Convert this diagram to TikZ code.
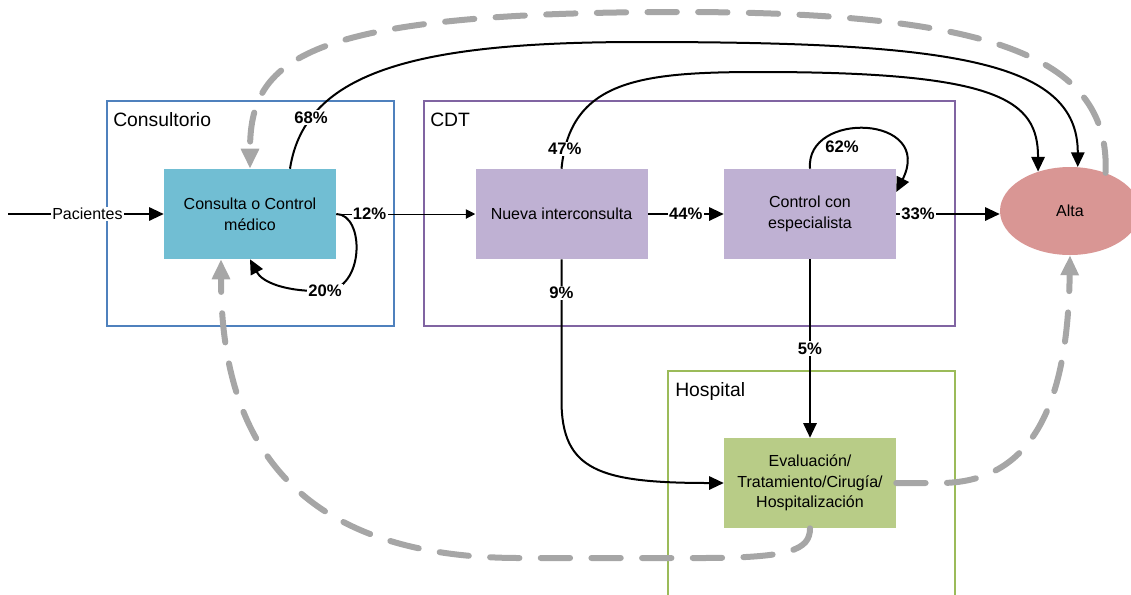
\documentclass[tikz,border=0pt]{standalone}
\usepackage{fontspec}
\setmainfont{Liberation Sans}
\usetikzlibrary{arrows.meta,shapes.geometric}
\definecolor{consblue}{RGB}{79,129,189}
\definecolor{cdtpurple}{RGB}{128,100,162}
\definecolor{hospgreen}{RGB}{155,187,89}
\definecolor{consfill}{RGB}{113,190,211}
\definecolor{cdtfill}{RGB}{191,177,211}
\definecolor{hospfill}{RGB}{184,204,135}
\definecolor{altafill}{RGB}{217,150,148}
\definecolor{retgray}{RGB}{166,166,166}
\tikzset{
  proc/.style={minimum width=129pt,minimum height=67.5pt,align=center,inner sep=2pt,font=\fontsize{12}{15.5}\selectfont},
  pct/.style={fill=white,inner sep=1pt,font=\fontsize{12.5}{14}\selectfont\bfseries},
  paso/.style={line width=1.5pt,-{Triangle[length=11pt,width=10pt]}},
  retorno/.style={retgray,line width=4.5pt,line cap=round,dash pattern=on 22pt off 16pt,-{Triangle[length=15pt,width=13pt]}},
  areabox/.style={line width=1.5pt},
  areatitle/.style={anchor=base west,inner sep=0pt,font=\fontsize{14.5}{16}\selectfont}
}
\begin{document}
\begin{tikzpicture}[x=0.75pt,y=-0.75pt]
\useasboundingbox (0,0) rectangle (1131,594);
\draw[areabox,consblue] (107,101) rectangle (394,326);
\draw[areabox,cdtpurple] (424,101) rectangle (955,326);
\draw[areabox,hospgreen] (668,371) rectangle (955,620);
\node[areatitle] (tcons) at (113,126) {Consultorio};
\node[areatitle] (tcdt) at (430,126) {CDT};
\node[areatitle] (thosp) at (675,396) {Hospital};
\node[proc,fill=consfill] (cons) at (250,214) {Consulta o Control\\médico};
\node[proc,fill=cdtfill] (nueva) at (561.5,214) {Nueva interconsulta};
\node[proc,fill=cdtfill] (ctrl) at (810,214) {Control con\\especialista};
\node[proc,fill=hospfill] (eval) at (810,483) {Evaluación/\\Tratamiento/Cirugía/\\Hospitalización};
\node[ellipse,fill=altafill,minimum width=105pt,minimum height=66pt,font=\fontsize{12}{14}\selectfont] (alta) at (1070,211) {Alta};
\coordinate (entrada) at (8,214);
\draw[paso] (entrada) -- node[pos=.51,fill=white,inner sep=1pt,font=\fontsize{12}{14}\selectfont] (lpac) {Pacientes} (cons.west);
\draw[line width=.75pt,-{Triangle[length=7pt,width=7pt]}] (cons.east) -- node[pct,pos=.24] (l12) {12\%} (nueva.west);
\draw[paso] (cons.east) .. controls (365,214) and (365,290) .. (325,291) node[pct] (l20) {20\%} .. controls (285,292) and (262,282) .. (cons.south);
\draw[paso] ([xshift=30pt]cons.north) .. controls (305,70) and (420,42) .. (640,42) node[pct,pos=.2] (l68) {68\%} .. controls (950,42) and (1078,60) .. (alta.80);
\draw[paso] (nueva.north) .. controls (570,80) and (640,72) .. (760,72) node[pct,pos=.08] (l47) {47\%} .. controls (1000,72) and (1038,100) .. (alta.129);
\draw[paso] (nueva.east) -- node[pct] (l44) {44\%} (ctrl.west);
\draw[paso] (ctrl.north) .. controls (805,110) and (935,115) .. ([yshift=16.5pt]ctrl.east);
\node[pct,fill=none] (l62) at (842,147) {62\%};
\draw[paso] (ctrl.east) -- node[pct,pos=.21] (l33) {33\%} (alta.west |- ctrl.east);
\draw[paso] (nueva.south) -- ++(0,141) node[pct,pos=.24] (l9) {9\%} .. controls +(0,70) and +(-125,0) .. (eval.west);
\draw[paso] (ctrl.south) -- node[pct] (l5) {5\%} (eval.north);
\draw[retorno] (alta.47) .. controls (1110,60) and (1000,12) .. (680,12) .. controls (300,12) and (250,60) .. (cons.north);
\draw[retorno] (eval.south) .. controls (810,550) and (790,558) .. (700,558) -- (520,558) .. controls (260,558) and (221,400) .. ([xshift=-21.75pt]cons.south);
\draw[retorno] (eval.east) -- (940,483) .. controls (1045,483) and (1068,380) .. (alta.south);
\end{tikzpicture}
\end{document}
